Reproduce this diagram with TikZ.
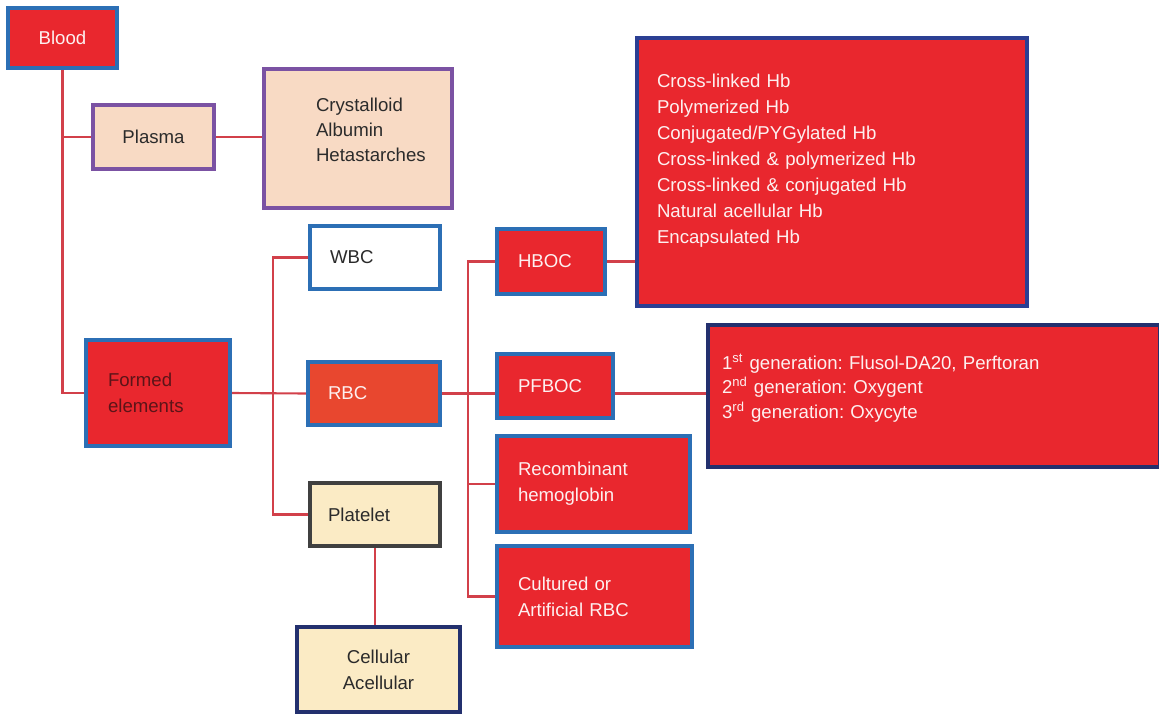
\documentclass[tikz,border=0pt]{standalone}
\usepackage{fontspec}
\setmainfont{Liberation Sans}
\usetikzlibrary{positioning,backgrounds}
\definecolor{boxred}{HTML}{E9272E}
\definecolor{rbcred}{HTML}{E8472F}
\definecolor{boxblue}{HTML}{2C6FB5}
\definecolor{navy}{HTML}{2B3F93}
\definecolor{darknavy}{HTML}{23306E}
\definecolor{plum}{HTML}{7B52A3}
\definecolor{peach}{HTML}{F8DAC4}
\definecolor{cream}{HTML}{FBEBC5}
\definecolor{linkred}{HTML}{D2404A}
\definecolor{softwhite}{HTML}{FDF0F0}
\definecolor{darktext}{HTML}{2B2B2B}
\definecolor{maroon}{HTML}{5C1418}
\frenchspacing

\begin{document}
\begin{tikzpicture}[
    x=0.02cm, y=-0.02cm,
    box/.style={draw=boxblue, line width=2pt, fill=boxred, text=softwhite, inner sep=0pt,
        font=\fontsize{10.6}{14.7}\selectfont, execute at begin node={\hyphenpenalty=10000\relax}},
    leftbox/.style={box, align=left, text width=#1},
    listbox/.style={leftbox=#1, draw=navy},
    paleboxp/.style={box, draw=plum, fill=peach, text=darktext},
    paleboxy/.style={box, fill=cream, text=darktext},
    link/.style={linkred, line width=1.2pt}
]
\useasboundingbox (0,0) rectangle (1159,713);

\node[box, minimum width=2.18cm, minimum height=1.2cm] (blood) at (62.5,38) {Blood};
\node[paleboxp, minimum width=2.42cm, minimum height=1.28cm] (plasma) at (153.5,137) {Plasma};
\node[paleboxp, align=left, text width=1.68cm, font=\fontsize{10.6}{14.2}\selectfont, text depth=38.6pt,
    minimum width=3.76cm, minimum height=2.78cm] (fluids) at (358,138.5) {
Crystalloid\\ Albumin\\ Hetastarches
};
\node[leftbox=2cm, text=maroon, minimum width=2.88cm, minimum height=2.12cm] (formed) at (158,393) {
Formed\\ elements
};
\node[leftbox=1.8cm, fill=white, text=darktext, minimum width=2.6cm, minimum height=1.26cm] (wbc) at (375,257.5) {WBC};
\node[leftbox=1.84cm, fill=rbcred, minimum width=2.64cm, minimum height=1.26cm] (rbc) at (374,393.5) {RBC};
\node[paleboxy, align=left, text width=1.88cm, draw=darktext!90, minimum width=2.6cm, minimum height=1.26cm] (platelet) at (375,514.5) {Platelet};
\node[paleboxy, align=center, draw=darknavy, minimum width=3.26cm, minimum height=1.7cm] (cellular) at (378.5,669.5) {
Cellular\\ Acellular
};

\node[leftbox=1.32cm, minimum width=2.16cm, minimum height=1.3cm] (hboc) at (551,261.5) {HBOC};
\node[leftbox=1.48cm, minimum width=2.32cm, minimum height=1.28cm] (pfboc) at (555,386) {PFBOC};
\node[leftbox=3.02cm, minimum width=3.86cm, minimum height=1.92cm] (recomb) at (593.5,484) {
Recombinant\\ hemoglobin
};
\node[leftbox=3.06cm, minimum width=3.9cm, minimum height=2.02cm] (cultured) at (594.5,596.5) {
Cultured or\\ Artificial RBC
};
\node[listbox=7cm, font=\fontsize{10.6}{14.85}\selectfont, text depth=104pt,
    minimum width=7.8cm, minimum height=5.36cm] (hboclist) at (832,172) {
Cross-linked Hb\\ Polymerized Hb\\ Conjugated/PYGylated Hb\\ Cross-linked \& polymerized Hb\\
Cross-linked \& conjugated Hb\\ Natural acellular Hb\\ Encapsulated Hb
};
\node[listbox=8.48cm, draw=darknavy, font=\fontsize{10.6}{13.9}\selectfont, text depth=39pt,
    minimum width=9.04cm, minimum height=2.84cm] (pfboclist) at (934,396) {
1\textsuperscript{st} generation: Flusol-DA20, Perftoran\\
2\textsuperscript{nd} generation: Oxygent\\
3\textsuperscript{rd} generation: Oxycyte
};

\coordinate (cellbus) at (273,0);
\coordinate (subbus) at (468,0);

\begin{scope}[on background layer]
\draw[link] (blood.south) |- (formed.west);
\draw[link] (blood.south |- plasma.west) -- (plasma.west);
\draw[link] (plasma.east) -- (plasma.east -| fluids.west);
\draw[link] (formed.east) -- (rbc.west);
\draw[link] (wbc.west) -| (cellbus |- platelet.west) -- (platelet.west);
\draw[link] (platelet.south) -- (platelet.south |- cellular.north);
\draw[link] (rbc.east) -- (rbc.east -| pfboc.west);
\draw[link] (hboc.west) -| (subbus |- cultured.west) -- (cultured.west);
\draw[link] (subbus |- recomb.west) -- (recomb.west);
\draw[link] (hboc.east) -- (hboc.east -| hboclist.west);
\draw[link] (rbc.east -| pfboc.east) -- (rbc.east -| pfboclist.west);
\end{scope}
\end{tikzpicture}
\end{document}
